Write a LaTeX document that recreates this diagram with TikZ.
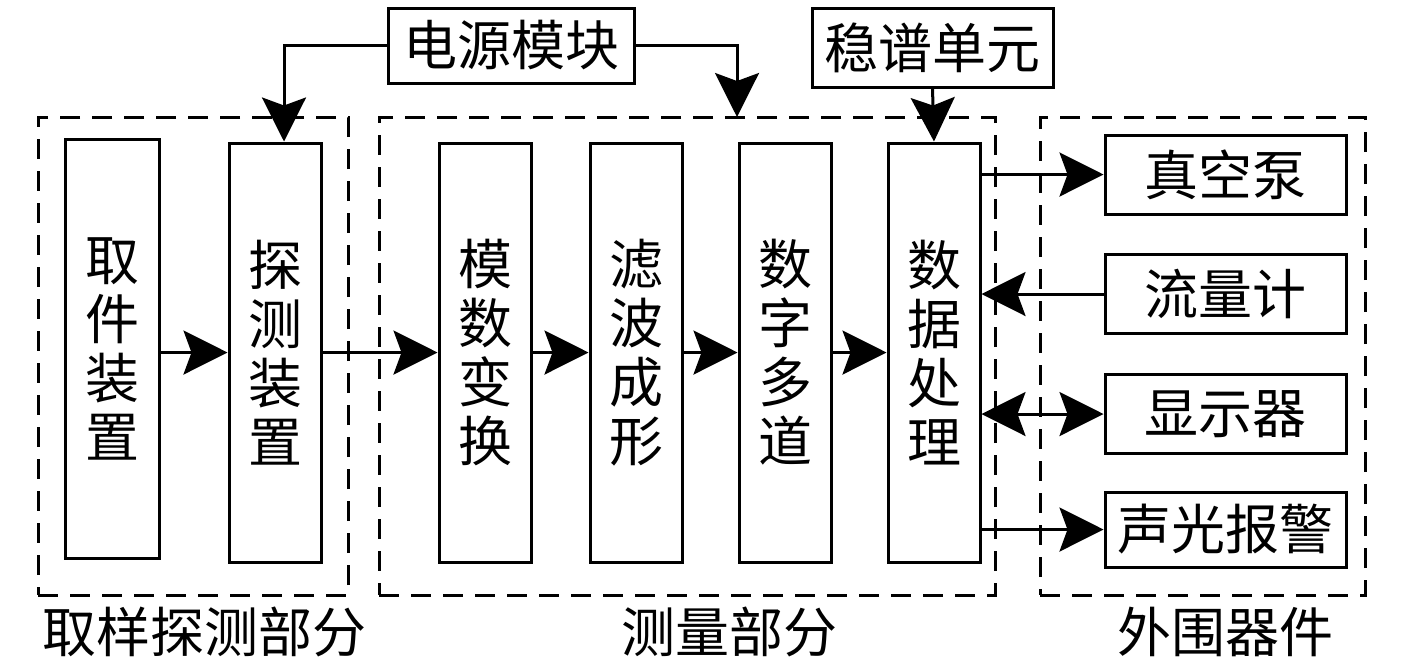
\documentclass[tikz,border=0pt]{standalone}
\usepackage{fontspec}
\newfontfamily\cjkfont{Noto Sans CJK SC}
\usetikzlibrary{arrows.meta}
\begin{document}
\begin{tikzpicture}[x=0.5pt,y=-0.5pt,
  txt/.style={font=\cjkfont\fontsize{27pt}{29.5pt}\selectfont},
  box/.style={draw, line width=1.5pt, inner sep=0pt, align=center, txt},
  vbox/.style={box, minimum width=46pt, minimum height=209.5pt},
  hbox/.style={box, minimum width=120.5pt, minimum height=39.5pt},
  group/.style={draw, line width=1.5pt, dash pattern=on 10pt off 6pt, inner sep=0pt},
  lbl/.style={txt, inner sep=0pt},
  arr/.style={line width=1.5pt, -{Stealth[length=22pt,width=22pt,inset=4pt]}},
  darr/.style={line width=1.5pt, {Stealth[length=22pt,width=22pt,inset=4pt]}-{Stealth[length=22pt,width=22pt,inset=4pt]}}
]
\useasboundingbox (0,0) rectangle (1417,666);
% groups
\node[group, minimum width=155pt, minimum height=239pt] (g1) at (193,356) {};
\node[group, minimum width=308pt, minimum height=239pt] (g2) at (687,356) {};
\node[group, minimum width=162.5pt, minimum height=239pt] (g3) at (1202.5,356) {};
% vertical blocks
\node[vbox, minimum width=47pt] (qj) at (112,348.5) {取\\件\\装\\置};
\node[vbox] (tc) at (275,352.5) {探\\测\\装\\置};
\node[vbox] (ms) at (485,352.5) {模\\数\\变\\换};
\node[vbox] (lb) at (636,352.5) {滤\\波\\成\\形};
\node[vbox] (sz) at (785,352.5) {数\\字\\多\\道};
\node[vbox] (sj) at (934,352.5) {数\\据\\处\\理};
% horizontal blocks
\node[hbox, minimum width=123pt, minimum height=37.5pt] (dy) at (511,45.5) {电源模块};
\node[hbox] (wp) at (932.5,47.5) {稳谱单元};
\node[hbox] (zk) at (1225.5,174.5) {真空泵};
\node[hbox] (ll) at (1225.5,294) {流量计};
\node[hbox] (xs) at (1225.5,414) {显示器};
\node[hbox, minimum height=37.5pt] (sg) at (1225.5,529.5) {声光报警};
% labels
\node[lbl] (l1) at (204,632) {取样探测部分};
\node[lbl] (l2) at (729,632) {测量部分};
\node[lbl] (l3) at (1225,632) {外围器件};
% connectors
\coordinate (pm) at (737,117);
\draw[arr] (dy.west) -| ([xshift=4.5pt]tc.north);
\draw[arr] (dy.east) -| (pm);
\draw[arr] (wp.south) -- (sj.north);
\draw[arr] (qj.east |- tc.west) -- (tc.west);
\draw[arr] (tc.east) -- (ms.west);
\draw[arr] (ms.east) -- (lb.west);
\draw[arr] (lb.east) -- (sz.west);
\draw[arr] (sz.east) -- (sj.west);
\draw[arr] (sj.east |- zk.west) -- (zk.west);
\draw[arr] (ll.west) -- (sj.east |- ll.west);
\draw[darr] (sj.east |- xs.west) -- (xs.west);
\draw[arr] (sj.east |- sg.west) -- (sg.west);
\end{tikzpicture}
\end{document}
